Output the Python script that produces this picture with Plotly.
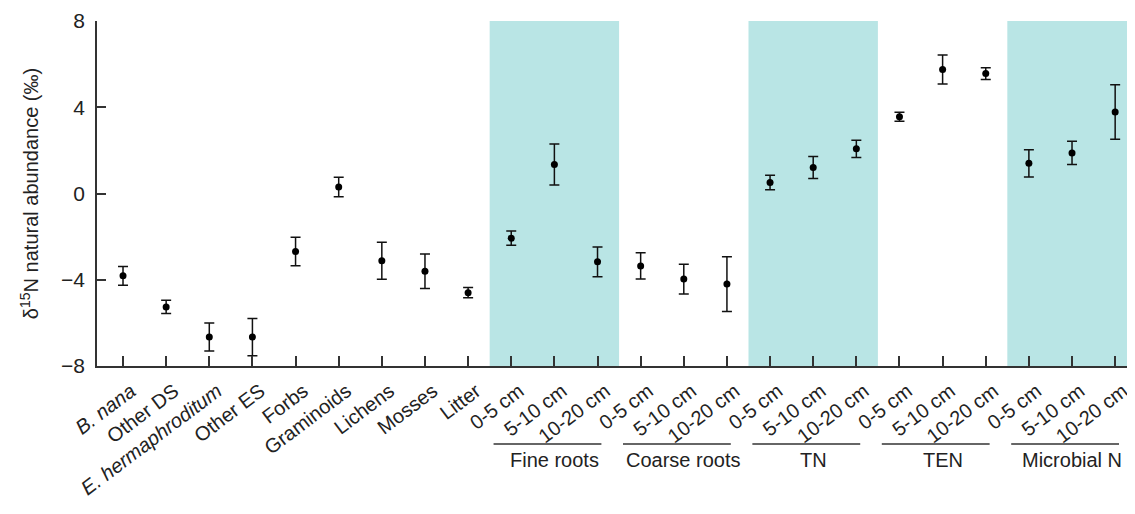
import plotly.graph_objects as go

labels = ["<i>B. nana</i>", "Other DS", "<i>E. hermaphroditum</i>", "Other ES", "Forbs",
          "Graminoids", "Lichens", "Mosses", "Litter",
          "0-5 cm", "5-10 cm", "10-20 cm",
          "0-5 cm", "5-10 cm", "10-20 cm",
          "0-5 cm", "5-10 cm", "10-20 cm",
          "0-5 cm", "5-10 cm", "10-20 cm",
          "0-5 cm", "5-10 cm", "10-20 cm"]
means = [-3.82, -5.26, -6.66, -6.66, -2.69, 0.30, -3.12, -3.61, -4.60,
         -2.07, 1.35, -3.17,
         -3.36, -3.97, -4.20,
         0.51, 1.21, 2.07,
         3.56, 5.75, 5.56,
         1.40, 1.88, 3.78]
errors = [0.44, 0.31, 0.65, 0.86, 0.66, 0.45, 0.86, 0.80, 0.24,
          0.33, 0.95, 0.69,
          0.61, 0.69, 1.27,
          0.34, 0.51, 0.40,
          0.21, 0.67, 0.27,
          0.63, 0.54, 1.26]
groups = ["Fine roots", "Coarse roots", "TN", "TEN", "Microbial N"]
group_first = [9, 12, 15, 18, 21]
shaded_groups = ["Fine roots", "TN", "Microbial N"]

xs = list(range(len(labels)))
FONT = "Liberation Sans, Arial, sans-serif"

fig = go.Figure()
fig.add_trace(go.Scatter(
    x=xs, y=means, mode="markers",
    marker=dict(color="black", size=7),
    error_y=dict(type="data", array=errors, visible=True, color="#111111",
                 thickness=1.5, width=5),
    showlegend=False, cliponaxis=False,
))

shapes = []
annotations = []
for g, f in zip(groups, group_first):
    if g in shaded_groups:
        shapes.append(dict(type="rect", xref="x", yref="y", x0=f - 0.5, x1=f + 2.5,
                           y0=-8, y1=8, fillcolor="#b9e5e5", line=dict(width=0),
                           layer="below"))
    shapes.append(dict(type="line", xref="x", yref="paper", x0=f - 0.41, x1=f + 2.09,
                       y0=-0.226, y1=-0.226, line=dict(color="#333333", width=1.5)))
    annotations.append(dict(text=g, xref="x", yref="paper", x=f + 1, y=-0.272,
                            showarrow=False, xanchor="center", yanchor="middle",
                            font=dict(family=FONT, size=20, color="#222222")))

fig.update_layout(
    width=1127, height=506,
    margin=dict(l=89, r=0, t=13, b=148),
    plot_bgcolor="white", paper_bgcolor="white",
    shapes=shapes, annotations=annotations,
    font=dict(family=FONT, color="#222222"),
)
fig.update_xaxes(
    range=[-0.603, 23.46], tickmode="array", tickvals=xs, ticktext=labels,
    tickangle=-37, ticks="inside", ticklen=10, tickwidth=1.5, tickcolor="#333333",
    showline=True, linecolor="#333333", linewidth=1.5, showgrid=False, zeroline=False,
    tickfont=dict(family=FONT, size=20, color="#222222"),
    ticklabelshift=8, ticklabelstandoff=4,
)
fig.update_yaxes(
    range=[-8, 8], tickvals=[-8, -4, 0, 4, 8], ticks="inside", ticklen=9,
    tickwidth=1.5, tickcolor="#333333",
    showline=True, linecolor="#333333", linewidth=1.5, showgrid=False, zeroline=False,
    tickfont=dict(family=FONT, size=21, color="#222222"), ticklabelstandoff=6,
    title=dict(text="δ<sup>15</sup>N natural abundance (‰)",
               font=dict(family=FONT, size=20, color="#222222"), standoff=17),
)
fig.write_html("out.html")
